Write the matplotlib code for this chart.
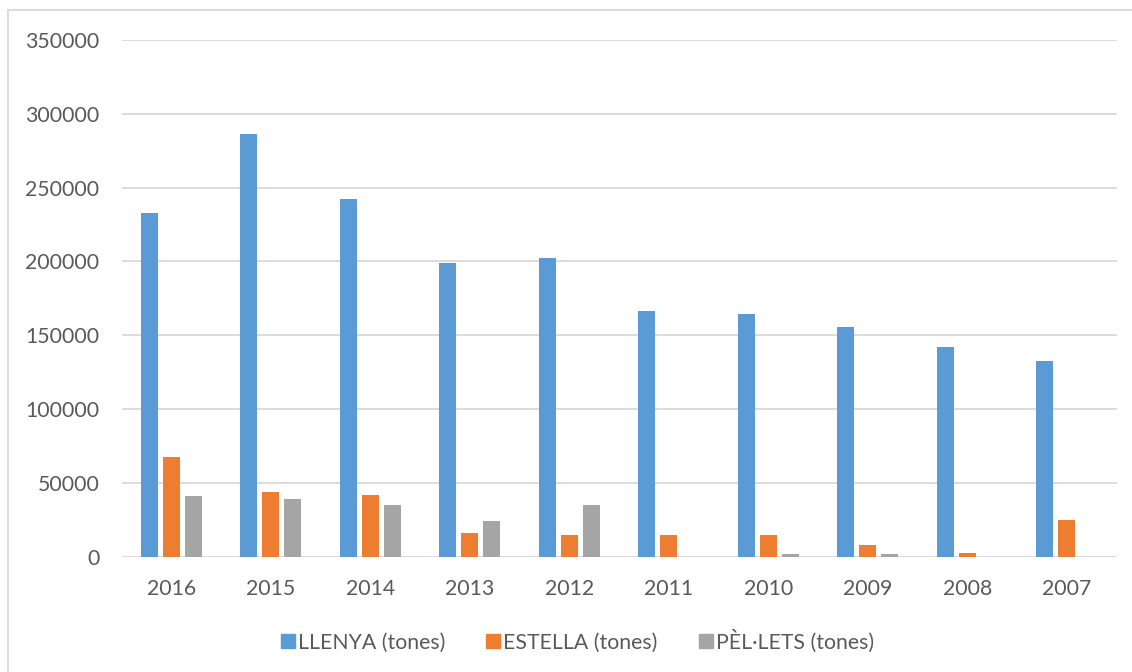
import numpy as np
import matplotlib.pyplot as plt
from matplotlib.lines import Line2D

years = ['2016', '2015', '2014', '2013', '2012', '2011', '2010', '2009', '2008', '2007']
llenya = [232500, 286200, 242400, 199000, 202400, 166700, 164300, 155900, 142100, 132600]
estella = [67800, 43500, 41700, 15900, 14700, 14500, 14500, 8100, 2300, 24900]
pellets = [41100, 39200, 34700, 24300, 34700, 0, 1600, 1600, 0, 0]
series_names = ['LLENYA (tones)', 'ESTELLA (tones)', 'PÈL·LETS (tones)']
colors = ['#5B9BD5', '#ED7D31', '#A5A5A5']

plt.rcParams['font.family'] = ['Lato', 'DejaVu Sans']

fig = plt.figure(figsize=(11.32, 6.72), dpi=100)
W, H = 1132, 672
# plot area in pixels: left 121.6, right 1116.6, top 40, bottom 556.7
ax = fig.add_axes([121.6/W, 1-556.7/H, 995/W, (556.7-40)/H])

x = np.arange(len(years))
step = 0.221
width = 0.171
for k, vals in enumerate([llenya, estella, pellets]):
    ax.bar(x + (k-1)*step, vals, width, color=colors[k], label=series_names[k], zorder=3)

ax.set_xlim(-0.5, len(years)-0.5)
ax.set_ylim(0, 350000)
ax.set_yticks(np.arange(0, 350001, 50000))
ax.set_yticklabels([str(v) for v in range(0, 350001, 50000)])
ax.set_xticks(x)
ax.set_xticklabels(years)
ax.grid(axis='y', color='#D9D9D9', linewidth=1.3, zorder=0)
ax.tick_params(length=0, labelsize=15.3, colors='#595959')
ax.tick_params(axis='y', pad=16)
ax.tick_params(axis='x', pad=16)
for s in ax.spines.values():
    s.set_visible(False)
ax.axhline(0, color='#D9D9D9', linewidth=1.3, zorder=2)

handles = [Line2D([], [], marker='s', linestyle='', markersize=10, color=c) for c in colors]
fig.legend(handles, series_names, loc='center', bbox_to_anchor=(577/W, 1-641/H), ncol=3,
           frameon=False, fontsize=15.3, labelcolor='#595959', handletextpad=0.1,
           columnspacing=1.9, handlelength=0.75)

# chart border (top and left edges visible)
fig.add_artist(Line2D([8/W, 8/W], [0, 1-10/H], color='#D9D9D9', linewidth=1.3))
fig.add_artist(Line2D([8/W, 1], [1-10/H, 1-10/H], color='#D9D9D9', linewidth=1.3))

fig.savefig('out.png', dpi=100, facecolor='white')
